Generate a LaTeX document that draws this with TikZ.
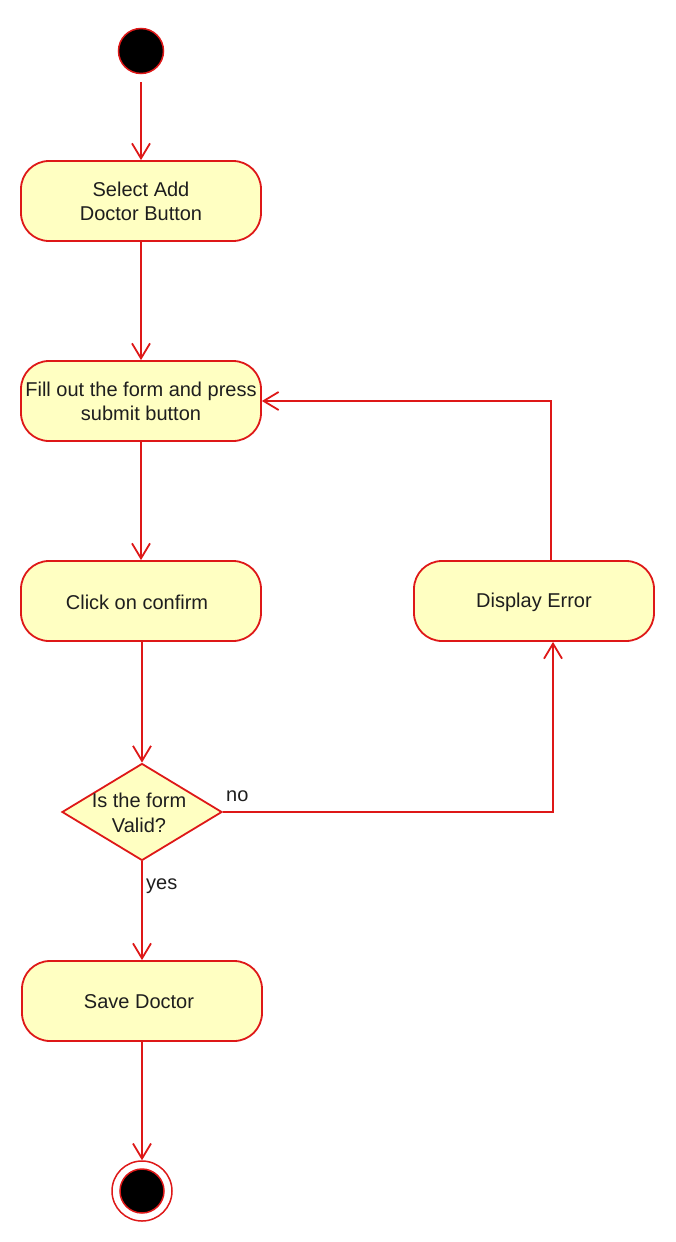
\documentclass[tikz,border=0pt]{standalone}
\usepackage{fontspec}
\setmainfont{Liberation Sans}
\usetikzlibrary{arrows.meta,shapes.geometric}
\definecolor{umlred}{RGB}{222,24,24}
\definecolor{umlfill}{RGB}{255,255,194}
\definecolor{umltext}{RGB}{30,30,30}
\begin{document}
\begin{tikzpicture}[x=1pt,y=-1pt,
  act/.style={draw=umlred,fill=umlfill,line width=1.8pt,rounded corners=28pt,
    minimum width=240pt,minimum height=80pt,inner sep=0pt,align=center,
    text=umltext,font=\fontsize{20}{24}\selectfont},
  dec/.style={draw=umlred,fill=umlfill,line width=1.8pt,diamond,
    minimum width=160pt,minimum height=97pt,inner sep=0pt},
  lbl/.style={text=umltext,font=\fontsize{20}{25}\selectfont,align=center,inner sep=0pt},
  arr/.style={draw=umlred,line width=1.8pt,-{Straight Barb[length=15pt,width=18pt,line width=1.8pt]}}
]
\useasboundingbox (0,0) rectangle (676,1242);
\node[circle,draw=umlred,fill=black,line width=1.5pt,minimum size=45pt,inner sep=0pt] (start) at (141,51) {};
\node[act] (b1) at (141,201) {Select Add\\Doctor Button};
\node[act] (b2) at (141,401) {Fill out the form and press\\submit button};
\node[act] (b3) at (141,601) {};
\node[lbl] (t3) at (137,602) {Click on confirm};
\node[act] (de) at (534,601) {};
\node[lbl] (tde) at (534,602) {Display Error};
\node[dec] (dia) at (142,812) {};
\node[lbl] (td) at (139,813) {Is the form\\Valid?};
\node[act] (sd) at (142,1001) {};
\node[lbl] (tsd) at (139,1002) {Save Doctor};
\node[circle,draw=umlred,line width=1.5pt,minimum size=60pt,inner sep=0pt] (endo) at (142,1191) {};
\node[circle,draw=umlred,fill=black,line width=1.5pt,minimum size=44pt,inner sep=0pt] (endi) at (142,1191) {};
\node[lbl,anchor=west] (no) at (226,796) {no};
\node[lbl,anchor=west] (yes) at (146,886) {yes};

\draw[arr,shorten <=8pt] (start) -- (b1);
\draw[arr] (b1) -- (b2);
\draw[arr] (b2) -- (b3);
\draw[arr] (dia.north |- b3.south) -- (dia);
\draw[arr] (dia) -- (sd);
\draw[arr] (sd) -- (endo);
\draw[arr] (dia.east) -| ([xshift=19pt]de.south);
\draw[arr] ([xshift=17pt]de.north) |- (b2.east);
\end{tikzpicture}
\end{document}
